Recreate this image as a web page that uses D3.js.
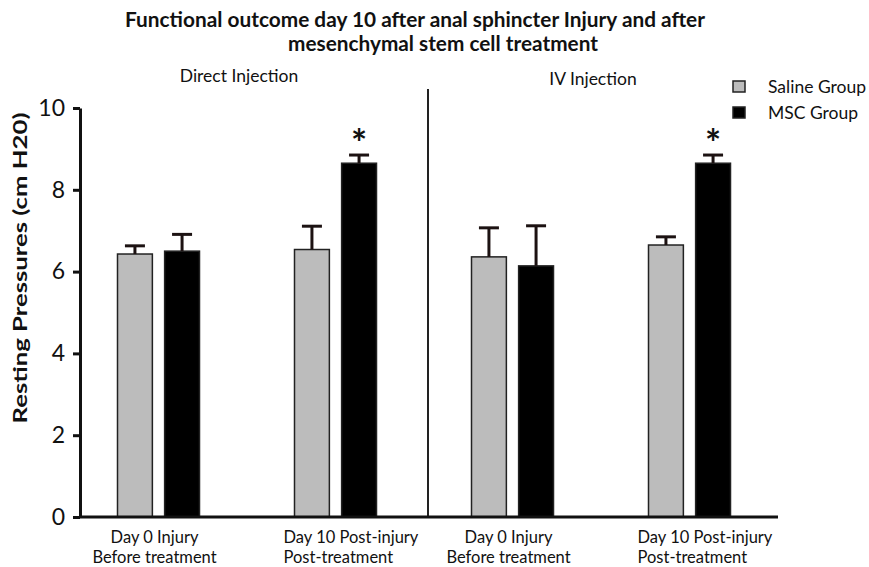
<!DOCTYPE html>
<html>
<head>
<meta charset="utf-8">
<script src="https://cdn.jsdelivr.net/npm/d3@7"></script>
<style>
  body { margin: 0; background: #fff; }
  text { font-family: Lato, "Open Sans", sans-serif; fill: #111; }
</style>
</head>
<body>
<svg id="chart"></svg>
<script>
// data
let categories = [
  ["Day 0 Injury", "Before treatment"],
  ["Day 10 Post-injury", "Post-treatment"],
  ["Day 0 Injury", "Before treatment"],
  ["Day 10 Post-injury", "Post-treatment"]
]
let series = ["Saline Group", "MSC Group"]
let saline = [6.43, 6.54, 6.36, 6.65]
let salineErr = [0.20, 0.57, 0.71, 0.20]
let msc = [6.50, 8.65, 6.14, 8.65]
let mscErr = [0.41, 0.20, 0.98, 0.20]
let mscSig = ["", "*", "", "*"]
let panels = ["Direct Injection", "IV Injection"]
let yTicks = [0, 2, 4, 6, 8, 10]

let colors = ["#bcbcbc", "#000"]
let labelAlign = ["middle", "start", "middle", "start"]

let w = 869
let h = 567

let svg = d3.select("#chart").attr("width", w).attr("height", h)

let ids = categories.map((d, i) => "g" + i)

let xScale = d3.scaleBand()
               .domain(ids)
               .range([70, 778])

let xSub = d3.scaleBand()
             .domain(series)
             .range([-41, 41])
             .paddingInner(0.26)

let yScale = d3.scaleLinear()
               .domain([0, 10])
               .range([517, 108])

let center = (i) => xScale(ids[i]) + xScale.bandwidth() / 2

// rows for bars
let rows = []
ids.forEach((id, i) => {
  rows.push({ i: i, s: series[0], v: saline[i], e: salineErr[i], sig: "" })
  rows.push({ i: i, s: series[1], v: msc[i], e: mscErr[i], sig: mscSig[i] })
})

let drawTitle = () => {
  svg.append("text")
     .attr("x", 415).attr("y", 27)
     .attr("text-anchor", "middle")
     .attr("font-size", 20).attr("font-weight", 700)
     .attr("textLength", 580).attr("lengthAdjust", "spacingAndGlyphs")
     .text("Functional outcome day 10 after anal sphincter Injury and after")
  svg.append("text")
     .attr("x", 443).attr("y", 51)
     .attr("text-anchor", "middle")
     .attr("font-size", 20).attr("font-weight", 700)
     .attr("textLength", 310).attr("lengthAdjust", "spacingAndGlyphs")
     .text("mesenchymal stem cell treatment")

  // panel headings
  svg.selectAll(".panel")
     .data(panels)
     .enter()
     .append("text")
     .attr("class", "panel")
     .attr("x", (d, k) => (center(k * 2) + center(k * 2 + 1)) / 2 - 8)
     .attr("y", (d, k) => 82 + k * 3)
     .attr("text-anchor", "middle")
     .attr("font-size", 17.5)
     .text((d) => d)
}

let drawBars = () => {
  svg.selectAll(".bar")
     .data(rows)
     .enter()
     .append("rect")
     .attr("class", "bar")
     .attr("x", (d) => center(d.i) + xSub(d.s))
     .attr("width", xSub.bandwidth())
     .attr("y", (d) => yScale(d.v))
     .attr("height", (d) => yScale(0) - yScale(d.v))
     .attr("fill", (d) => d.s === series[0] ? colors[0] : colors[1])
     .attr("stroke", "#222")
     .attr("stroke-width", 1.5)

  let err = svg.selectAll(".err")
               .data(rows)
               .enter()
               .append("g")
               .attr("class", "err")
               .attr("stroke", "#1c1212")
               .attr("stroke-width", 3)

  err.append("line")
     .attr("x1", (d) => center(d.i) + xSub(d.s) + xSub.bandwidth() / 2)
     .attr("x2", (d) => center(d.i) + xSub(d.s) + xSub.bandwidth() / 2)
     .attr("y1", (d) => yScale(d.v))
     .attr("y2", (d) => yScale(d.v + d.e))

  err.append("line")
     .attr("x1", (d) => center(d.i) + xSub(d.s) + xSub.bandwidth() / 2 - 10)
     .attr("x2", (d) => center(d.i) + xSub(d.s) + xSub.bandwidth() / 2 + 10)
     .attr("y1", (d) => yScale(d.v + d.e))
     .attr("y2", (d) => yScale(d.v + d.e))

  svg.selectAll(".sig")
     .data(rows.filter((d) => d.sig !== ""))
     .enter()
     .append("text")
     .attr("class", "sig")
     .attr("x", (d) => center(d.i) + xSub(d.s) + xSub.bandwidth() / 2)
     .attr("y", (d) => yScale(d.v + d.e) + 2)
     .attr("text-anchor", "middle")
     .attr("font-family", "'DejaVu Sans', sans-serif")
     .attr("font-weight", 700)
     .attr("font-size", 38)
     .text((d) => d.sig)

  // divider between the two injection panels
  let divX = (center(1) + xSub(series[1]) + xSub.bandwidth() + center(2) + xSub(series[0])) / 2 + 4
  svg.append("line")
     .attr("x1", divX).attr("x2", divX)
     .attr("y1", 89).attr("y2", yScale(0))
     .attr("stroke", "#222")
     .attr("stroke-width", 2)
}

let drawAxes = () => {
  let yAxis = d3.axisLeft(yScale)
                .tickValues(yTicks)
                .tickSize(7)
                .tickSizeOuter(0)
                .tickPadding(8)

  let gy = svg.append("g")
              .attr("id", "y-axis")
              .attr("transform", "translate(80, 0)")
              .call(yAxis)
  gy.select(".domain").attr("stroke", "#111").attr("stroke-width", 3)
  gy.selectAll(".tick line").attr("stroke", "#111").attr("stroke-width", 3)
  gy.selectAll(".tick text")
    .attr("font-family", "Lato, sans-serif")
    .attr("font-size", 23)
    .attr("fill", "#111")

  svg.append("line")
     .attr("x1", 80).attr("x2", 778)
     .attr("y1", yScale(0)).attr("y2", yScale(0))
     .attr("stroke", "#111")
     .attr("stroke-width", 3)

  svg.append("text")
     .attr("transform", "translate(27, 268) rotate(-90)")
     .attr("text-anchor", "middle")
     .attr("font-size", 18).attr("font-weight", 700)
     .attr("textLength", 311).attr("lengthAdjust", "spacingAndGlyphs")
     .text("Resting Pressures (cm H20)")

  // two-line category labels
  let labels = svg.selectAll(".xlab")
                  .data(categories)
                  .enter()
                  .append("text")
                  .attr("class", "xlab")
                  .attr("font-size", 16.5)
                  .attr("text-anchor", (d, i) => labelAlign[i])

  labels.each(function (d, i) {
    let x0 = labelAlign[i] === "start" ? center(i) - 52 : center(i) - 4
    d3.select(this).selectAll("tspan")
      .data(d)
      .enter()
      .append("tspan")
      .attr("x", x0)
      .attr("y", (t, k) => 543 + k * 20)
      .text((t) => t)
  })
}

let drawLegend = () => {
  let lg = svg.append("g").attr("transform", "translate(733, 81)")
  let item = lg.selectAll("g")
               .data(series)
               .enter()
               .append("g")
               .attr("transform", (d, i) => "translate(0," + i * 26 + ")")
  item.append("rect")
      .attr("width", 12).attr("height", 11)
      .attr("fill", (d, i) => colors[i])
      .attr("stroke", "#222").attr("stroke-width", 1.5)
  item.append("text")
      .attr("x", 35).attr("y", 12)
      .attr("font-size", 17.5)
      .text((d) => d)
}

drawTitle()
drawBars()
drawAxes()
drawLegend()
</script>
</body>
</html>
